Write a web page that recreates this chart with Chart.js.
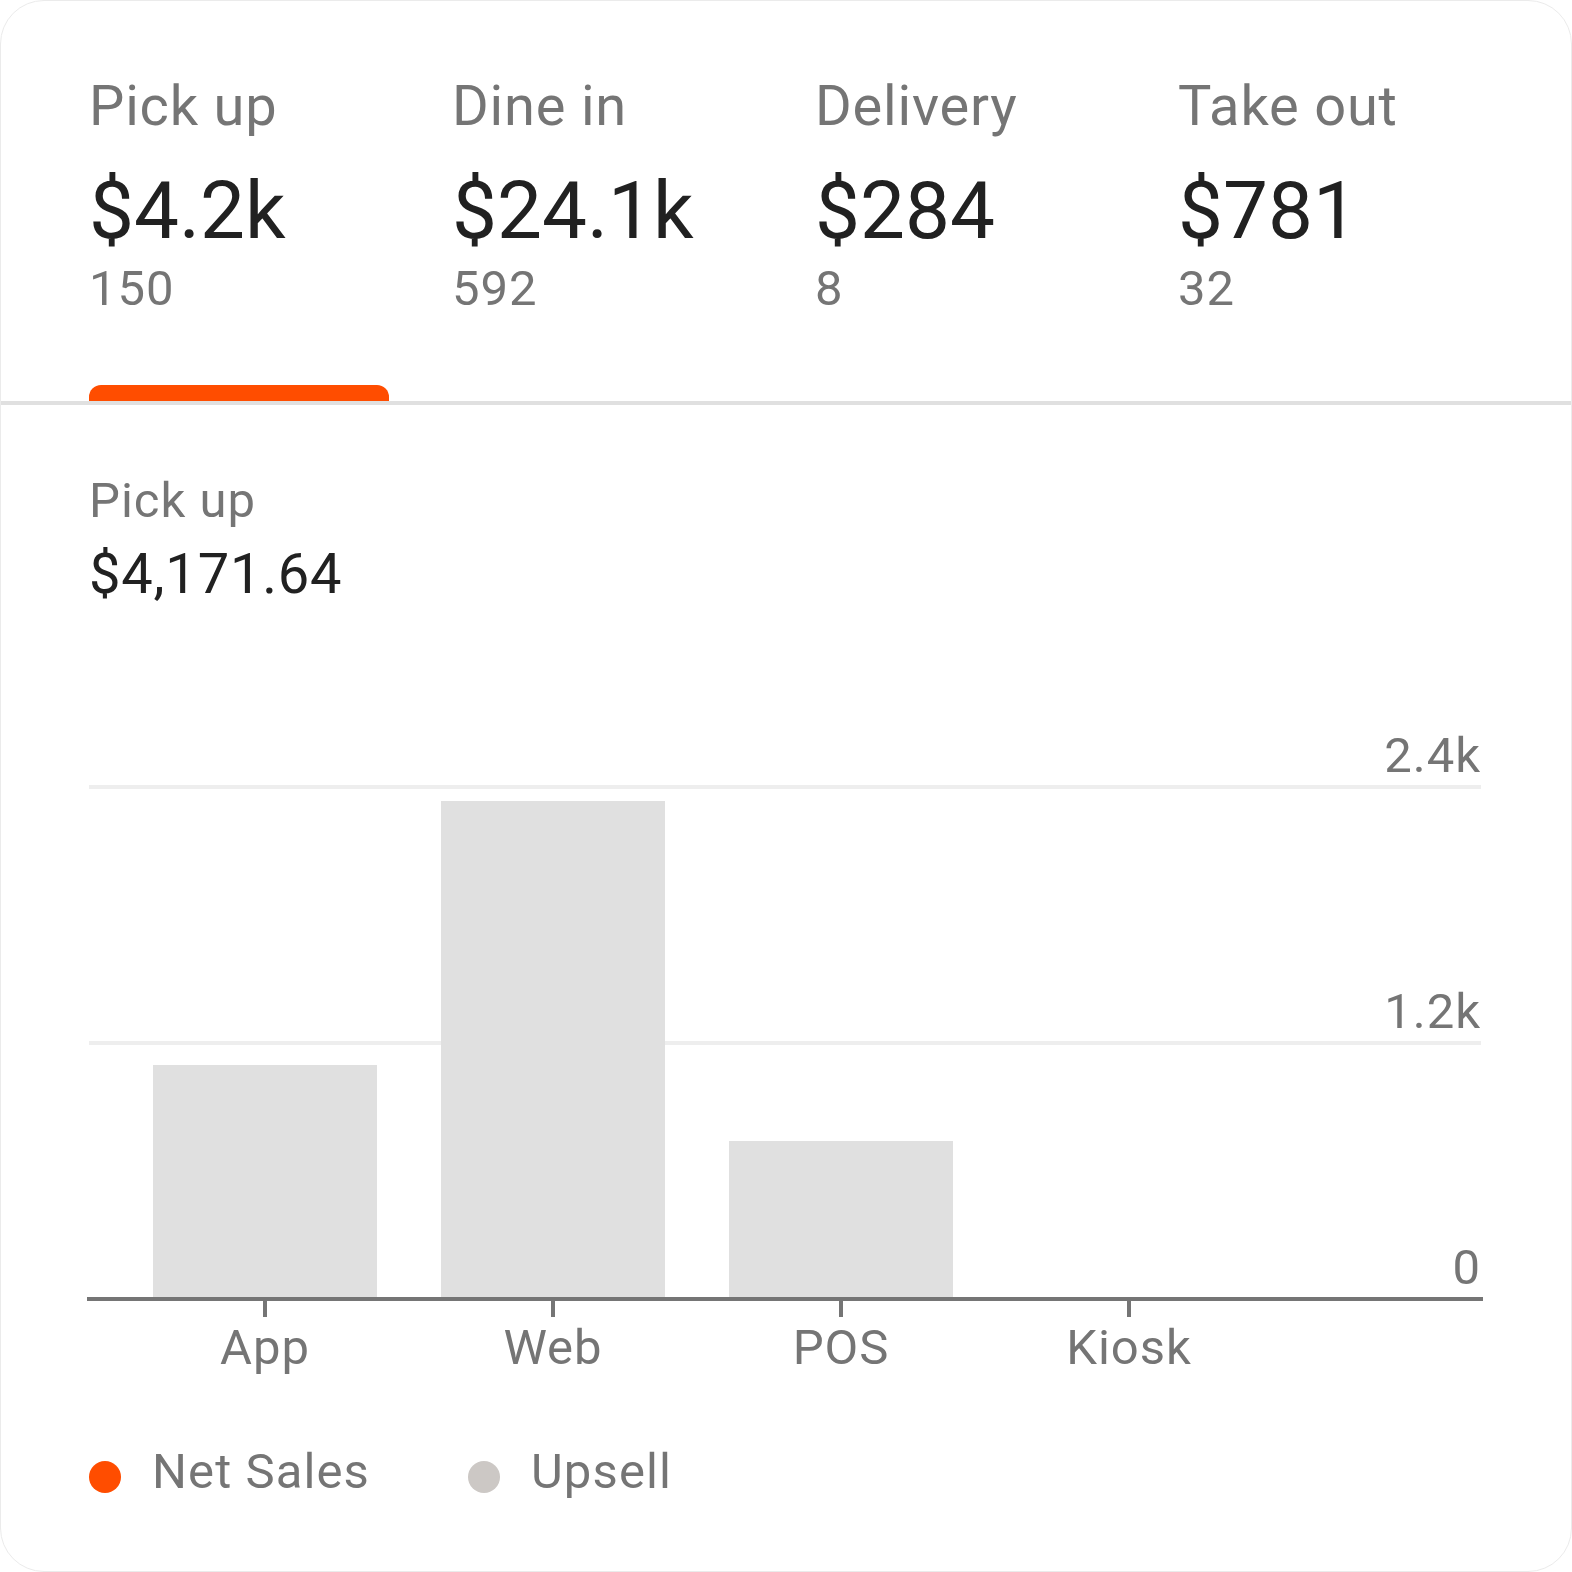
<!DOCTYPE html>
<html>
<head>
<meta charset="utf-8">
<title>Pick up by channel</title>
<script src="https://cdn.jsdelivr.net/npm/chart.js@4.4.1/dist/chart.umd.min.js"></script>
<style>
  html, body { margin: 0; padding: 0; background: #fff; }
  body { width: 1572px; height: 1572px; position: relative; font-family: Roboto, "Noto Sans", sans-serif; }
  .card { position: absolute; left: 0; top: 0; width: 1572px; height: 1572px; box-sizing: border-box;
          border: 1px solid #ebebeb; border-radius: 44px; overflow: hidden; background: #fff; }
  .tab { position: absolute; top: 0; }
  .tab .name { position: absolute; top: 77px; font-size: 56px; line-height: 56px; color: #757575; white-space: nowrap; letter-spacing: 0.8px; }
  .tab .total { position: absolute; top: 170px; font-size: 80px; line-height: 80px; color: #212121; white-space: nowrap; }
  .tab .count { position: absolute; top: 263px; font-size: 49px; line-height: 49px; color: #757575; white-space: nowrap; letter-spacing: 0.9px; }
  .indicator { position: absolute; left: 88px; top: 384px; width: 300px; height: 16px; background: #ff4d00;
               border-radius: 12px 12px 0 0; }
  .divider { position: absolute; left: 0; top: 400px; width: 1572px; height: 4px; background: #e0e0e0; }
  .sel-label { position: absolute; left: 88px; top: 475px; font-size: 49px; line-height: 49px; color: #757575; letter-spacing: 1px; }
  .sel-value { position: absolute; left: 88px; top: 545px; font-size: 56px; line-height: 56px; color: #212121; letter-spacing: 0.8px; }
  .chart-box { position: absolute; left: 0; top: 700px; width: 1572px; height: 678px; }
  .legend-dot { position: absolute; top: 1460px; width: 32px; height: 32px; border-radius: 50%; }
  .legend-text { position: absolute; top: 1446px; font-size: 49px; line-height: 49px; color: #757575; white-space: nowrap; letter-spacing: 1.1px; }
</style>
</head>
<body>
<div class="card" id="card">
  <div class="indicator"></div>
  <div class="divider"></div>
  <div class="sel-label">Pick up</div>
  <div class="sel-value">$4,171.64</div>
  <div class="chart-box"><canvas id="channel-chart"></canvas></div>
</div>
<script>
// top tabs
var tabNames = ['Pick up', 'Dine in', 'Delivery', 'Take out'];
var tabTotals = ['$4.2k', '$24.1k', '$284', '$781'];
var tabCounts = ['150', '592', '8', '32'];

// chart for the selected tab
var channels = ['App', 'Web', 'POS', 'Kiosk'];
var netSales = [1097, 2334, 741, 0];
var yTicks = [0, 1200, 2400];
var yTickLabels = ['0', '1.2k', '2.4k'];

// legend
var legendNames = ['Net Sales', 'Upsell'];
var legendColors = ['#ff4d00', '#ccc8c5'];

var card = document.getElementById('card');

// tabs
tabNames.forEach(function (name, i) {
	var tab = document.createElement('div');
	tab.className = 'tab';
	tab.style.left = (88 + i * 363) + 'px';
	tab.innerHTML = '<div class="name">' + name + '</div>' +
		'<div class="total">' + tabTotals[i] + '</div>' +
		'<div class="count">' + tabCounts[i] + '</div>';
	card.appendChild(tab);
});

// legend (html, spaced like the design)
var legendLeft = [88, 467];
legendNames.forEach(function (name, i) {
	var dot = document.createElement('div');
	dot.className = 'legend-dot';
	dot.style.left = legendLeft[i] + 'px';
	dot.style.background = legendColors[i];
	card.appendChild(dot);
	var txt = document.createElement('div');
	txt.className = 'legend-text';
	txt.style.left = (legendLeft[i] + 63) + 'px';
	txt.textContent = name;
	card.appendChild(txt);
});

var smallFont = { family: 'Roboto', size: 49 };

// canvas letter spacing, set again on every draw since resize wipes ctx state
var spacingPlugin = {
	id: 'spacing',
	beforeDraw: function (chart) { chart.ctx.letterSpacing = '1px'; }
};

new Chart(document.getElementById('channel-chart').getContext('2d'), {
	type: 'bar',
	data: {
		datasets: [{
			label: legendNames[0],
			data: netSales.map(function (v, i) { return { x: i, y: v }; }),
			backgroundColor: '#e0e0e0',
			borderWidth: 0,
			categoryPercentage: 0.7778,
			barPercentage: 1
		}]
	},
	options: {
		responsive: true,
		maintainAspectRatio: false,
		animation: false,
		layout: { padding: { left: 88, right: 92, top: 86, bottom: 0 } },
		plugins: { legend: { display: false }, tooltip: { enabled: false } },
		scales: {
			x: {
				type: 'linear',
				min: -0.6111,
				max: 4.2222,
				offset: false,
				afterBuildTicks: function (scale) {
					scale.ticks = channels.map(function (c, i) { return { value: i }; });
				},
				afterFit: function (scale) { scale.height = 80; },
				grid: {
					offset: false,
					drawOnChartArea: false,
					drawTicks: true,
					tickLength: 18,
					tickWidth: 4,
					tickColor: '#757575',
					color: '#757575',
					lineWidth: 4
				},
				border: { display: true, color: '#757575', width: 4, z: 1 },
				ticks: {
					autoSkip: false,
					maxRotation: 0,
					padding: 5,
					color: '#757575',
					font: smallFont,
					callback: function (v) { return channels[v]; }
				}
			},
			y: {
				position: 'right',
				min: 0,
				max: 2400,
				afterBuildTicks: function (scale) {
					scale.ticks = yTicks.map(function (v) { return { value: v }; });
				},
				grid: { color: '#eeeeee', lineWidth: 4, drawTicks: false },
				border: { display: false },
				ticks: {
					mirror: true,
					padding: 0,
					labelOffset: -27,
					color: '#757575',
					font: smallFont,
					callback: function (v) { return yTickLabels[yTicks.indexOf(v)]; }
				}
			}
		}
	},
	plugins: [spacingPlugin]
});
</script>
</body>
</html>
